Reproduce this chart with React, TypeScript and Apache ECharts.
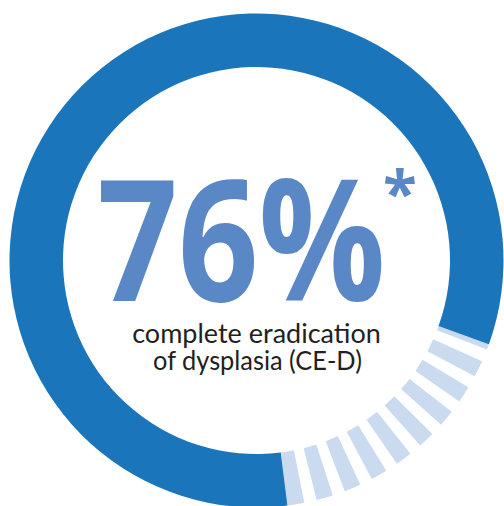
import React, { useEffect, useRef } from "react";
import * as echarts from "echarts";

// Headline value and caption
const headlineValue = 76;
const headlineSuffix = "%";
const footnoteMark = "*";
const captionLines = ["complete eradication", "of dysplasia (CE-D)"];

// Ring segments in degrees, clockwise from the blue arc's start
const solidArc = [
  { name: "CE-D", value: 297 },
  { name: "rest", value: 63 },
];

// Light striped segment: stripe / gap widths in degrees (10 stripes)
const stripePattern = [
  3.9, 2.95, 3.9, 2.95, 3.9, 2.95, 3.9, 2.95, 3.9, 2.95,
  3.9, 2.95, 3.9, 2.95, 3.9, 2.95, 3.9, 2.95, 3.9,
];

const BLUE = "#1B75BB";
const LIGHT = "#CADBEF";
const TEXT_BLUE = "#5A88C6";
const DARK = "#231F20";

export default function App() {
  const ref = useRef<HTMLDivElement>(null);

  useEffect(() => {
    if (!ref.current) return;
    const chart = echarts.init(ref.current, undefined, { renderer: "svg" });
    const center = [256.5, 260.5];
    const radius = [193.5, 247];

    const stripeData = stripePattern.map((v, i) => ({
      name: "s" + i,
      value: v,
      itemStyle: { color: i % 2 === 0 ? LIGHT : "rgba(0,0,0,0)" },
    }));
    const used = stripePattern.reduce((a, b) => a + b, 0);
    stripeData.push({
      name: "none",
      value: 360 - used,
      itemStyle: { color: "rgba(0,0,0,0)" },
    });

    chart.setOption({
      animation: false,
      series: [
        {
          type: "pie",
          center,
          radius,
          startAngle: 90 - 107.2,
          clockwise: true,
          silent: true,
          label: { show: false },
          labelLine: { show: false },
          emphasis: { disabled: true },
          z: 1,
          data: stripeData,
        },
        {
          type: "pie",
          center,
          radius,
          startAngle: 90 - 172.8,
          clockwise: true,
          silent: true,
          label: { show: false },
          labelLine: { show: false },
          emphasis: { disabled: true },
          z: 2,
          data: solidArc.map((d, i) => ({
            ...d,
            itemStyle: { color: i === 0 ? BLUE : "rgba(0,0,0,0)" },
          })),
        },
      ],
      graphic: [
        {
          type: "text",
          x: 241.5,
          y: 235,
          scaleX: 0.84,
          style: {
            text: headlineValue + headlineSuffix,
            fontFamily: "Open Sans",
            fontWeight: 700,
            fontSize: 168,
            fill: TEXT_BLUE,
            textAlign: "center",
            textVerticalAlign: "middle",
          },
        },
        {
          type: "text",
          x: 400,
          y: 192,
          style: {
            text: footnoteMark,
            fontFamily: "Open Sans",
            fontWeight: 700,
            fontSize: 62,
            fill: TEXT_BLUE,
            textAlign: "center",
            textVerticalAlign: "middle",
          },
        },
        {
          type: "text",
          x: 256.5,
          y: 332.6,
          style: {
            text: captionLines[0],
            fontFamily: "Lato",
            fontSize: 27,
            lineHeight: 24,
            fill: DARK,
            textAlign: "center",
            textVerticalAlign: "middle",
          },
        },
        {
          type: "text",
          x: 257.5,
          y: 359.6,
          scaleX: 0.94,
          style: {
            text: captionLines[1],
            fontFamily: "Lato",
            fontSize: 27,
            lineHeight: 24,
            fill: DARK,
            textAlign: "center",
            textVerticalAlign: "middle",
          },
        },
      ],
    });
    return () => chart.dispose();
  }, []);

  return (
    <div
      ref={ref}
      style={{ position: "fixed", left: 0, top: 0, width: 504, height: 506, background: "#fff" }}
    />
  );
}
